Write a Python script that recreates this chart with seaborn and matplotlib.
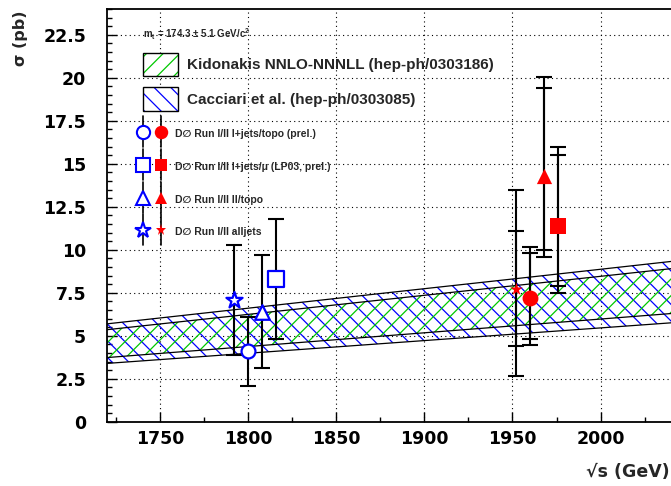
import numpy as np
import pandas as pd
import matplotlib
matplotlib.use("Agg")
import matplotlib.pyplot as plt
from matplotlib.patches import Rectangle
from matplotlib.lines import Line2D
from matplotlib.ticker import MultipleLocator
import seaborn as sns

# ---------------- data ----------------
# theory bands (sigma in pb vs sqrt(s) in GeV)
band_energy = [1720, 1800, 1880, 1960, 2040, 2100]
kidonakis_low = [3.73, 4.37, 5.01, 5.65, 6.29, 6.77]
kidonakis_high = [5.35, 6.24, 7.13, 8.01, 8.90, 9.57]
cacciari_low = [3.39, 3.98, 4.57, 5.16, 5.75, 6.20]
cacciari_high = [5.69, 6.60, 7.51, 8.41, 9.32, 10.00]

channels = ["l+jets/topo", "l+jets/mu", "ll/topo", "alljets"]

# Run I measurements (points displaced around 1800 GeV)
run1_energy = [1800, 1816, 1808, 1792]
run1_sigma = [4.1, 8.3, 6.4, 7.1]
run1_low = [2.1, 4.8, 3.1, 3.9]
run1_high = [6.1, 11.8, 9.7, 10.3]

# Run II measurements (points displaced around 1960 GeV)
run2_energy = [1960, 1976, 1968, 1952]
run2_sigma = [7.2, 11.4, 14.3, 7.7]
run2_stat_low = [4.8, 7.9, 10.0, 4.4]
run2_stat_high = [9.8, 15.5, 19.4, 11.1]
run2_tot_low = [4.45, 7.46, 9.6, 2.67]
run2_tot_high = [10.15, 15.96, 20.02, 13.5]

legend_labels = [
    "D\u2205 Run I/II l+jets/topo (prel.)",
    "D\u2205 Run I/II l+jets/\u03bc (LP03, prel.)",
    "D\u2205 Run I/II ll/topo",
    "D\u2205 Run I/II alljets",
]

markers = {"l+jets/topo": "o", "l+jets/mu": "s", "ll/topo": "^", "alljets": "*"}
open_size = {"l+jets/topo": 100, "l+jets/mu": 120, "ll/topo": 110, "alljets": 150}
full_size = {"l+jets/topo": 130, "l+jets/mu": 120, "ll/topo": 120, "alljets": 90}

# ---------------- style ----------------
sns.set_theme(style="ticks")
plt.rcParams["font.family"] = ["Liberation Sans", "DejaVu Sans"]
plt.rcParams["hatch.linewidth"] = 0.9

W, H = 671, 486
fig = plt.figure(figsize=(W / 100, H / 100), dpi=100)
fig.patch.set_facecolor("white")

ax_left, ax_bottom_px, ax_top_px = 107, 421.7, 9.0
xmin, xmax = 1720, 2100
px_per_gev = 1.763
ax_w = (xmax - xmin) * px_per_gev
ax = fig.add_axes([ax_left / W, (H - ax_bottom_px) / H,
                   ax_w / W, (ax_bottom_px - ax_top_px) / H])
ax.set_facecolor("white")


def fpos(x, y):
    """figure-fraction position from top-left pixel coordinates"""
    return x / W, 1 - y / H


GREEN = "#00c800"
BLUE = "#0000ff"
RED = "#ff0000"

# ---------------- theory bands ----------------
ax.fill_between(band_energy, cacciari_low, cacciari_high, facecolor="none",
                edgecolor=BLUE, hatch="\\\\", linewidth=0, zorder=1)
ax.fill_between(band_energy, kidonakis_low, kidonakis_high, facecolor="none",
                edgecolor=GREEN, hatch="//", linewidth=0, zorder=1)
bands = pd.DataFrame({"E": band_energy * 4,
                      "sigma": cacciari_low + cacciari_high + kidonakis_low + kidonakis_high,
                      "edge": ["cl"] * 6 + ["ch"] * 6 + ["kl"] * 6 + ["kh"] * 6})
for edge, grp in bands.groupby("edge"):
    sns.lineplot(data=grp, x="E", y="sigma", color="black", linewidth=0.9,
                 ax=ax, zorder=2, legend=False)

# ---------------- error bars ----------------
ekw = dict(fmt="none", ecolor="black", elinewidth=1.5, capsize=5.5,
           capthick=1.5, zorder=3)
r1 = np.array(run1_sigma)
ax.errorbar(run1_energy, run1_sigma,
            yerr=[r1 - np.array(run1_low), np.array(run1_high) - r1], **ekw)
r2 = np.array(run2_sigma)
ax.errorbar(run2_energy, run2_sigma,
            yerr=[r2 - np.array(run2_tot_low), np.array(run2_tot_high) - r2], **ekw)
ax.errorbar(run2_energy, run2_sigma,
            yerr=[r2 - np.array(run2_stat_low), np.array(run2_stat_high) - r2], **ekw)

# ---------------- markers ----------------
run1 = pd.DataFrame({"E": run1_energy, "sigma": run1_sigma, "channel": channels})
run2 = pd.DataFrame({"E": run2_energy, "sigma": run2_sigma, "channel": channels})
for ch in channels:
    sns.scatterplot(data=run1[run1.channel == ch], x="E", y="sigma",
                    marker=markers[ch], s=open_size[ch], color="white",
                    edgecolor=BLUE, linewidth=1.6, ax=ax, zorder=4, legend=False)
    sns.scatterplot(data=run2[run2.channel == ch], x="E", y="sigma",
                    marker=markers[ch], s=full_size[ch], color=RED,
                    edgecolor=RED, linewidth=0, ax=ax, zorder=4, legend=False)

# ---------------- axes ----------------
ax.set_xlim(xmin, xmax)
ax.set_ylim(0, 24)
ax.xaxis.set_major_locator(MultipleLocator(50))
ax.xaxis.set_minor_locator(MultipleLocator(25))
ax.yaxis.set_major_locator(MultipleLocator(2.5))
ax.yaxis.set_minor_locator(MultipleLocator(0.5))
ax.xaxis.set_major_formatter(plt.FuncFormatter(lambda v, p: f"{v:g}" if v <= 2020 else ""))
ax.yaxis.set_major_formatter(plt.FuncFormatter(lambda v, p: f"{v:g}"))
ax.grid(True, which="major", color="black", linestyle=(0, (1, 3)),
        linewidth=0.8, zorder=0)
ax.set_axisbelow(True)
for s in ["left", "bottom", "top", "right"]:
    ax.spines[s].set_linewidth(1.3)
    ax.spines[s].set_color("black")
ax.tick_params(which="major", direction="in", length=7.5, width=1.0,
               color="black", labelsize=12.5)
ax.tick_params(which="minor", direction="in", length=3.8, width=1.0,
               color="black")
ax.tick_params(axis="y", which="major", pad=15)
ax.tick_params(axis="x", which="major", pad=6)
for lab in ax.get_xticklabels() + ax.get_yticklabels():
    lab.set_fontfamily("DejaVu Sans")
    lab.set_fontweight("bold")
    lab.set_color("black")
ax.set_xlabel("")
ax.set_ylabel("")

fig.text(*fpos(20, 10), "\u03c3 (pb)", rotation=90, ha="center", va="top",
         fontsize=11.5, fontweight="bold", family=["DejaVu Sans"])
fig.text(*fpos(670, 472), "\u221as (GeV)", ha="right", va="center",
         fontsize=12.5, fontweight="bold", family=["DejaVu Sans"])

# ---------------- legend ----------------
fig.text(*fpos(143, 34), "m$_\\mathregular{t}$ = 174.3 \u00b1 5.1 GeV/c$^\\mathregular{2}$",
         ha="left", va="center", fontsize=7, fontweight="bold")

for (y0, y1, col, hatch, label) in [
        (53, 76, GREEN, "//", "Kidonakis NNLO-NNNLL (hep-ph/0303186)"),
        (87.5, 111, BLUE, "\\\\", "Cacciari et al. (hep-ph/0303085)")]:
    x0, y_ = fpos(143, y1)
    w = 35 / W
    h = (y1 - y0) / H
    fig.patches.append(Rectangle((x0, y_), w, h, transform=fig.transFigure,
                                 facecolor="white", edgecolor=col, hatch=hatch,
                                 linewidth=0))
    fig.patches.append(Rectangle((x0, y_), w, h, transform=fig.transFigure,
                                 facecolor="none", edgecolor="black",
                                 linewidth=1.0))
    fig.text(*fpos(187, (y0 + y1) / 2 + 1), label, ha="left", va="center",
             fontsize=11, fontweight="bold")

rows_y = [131.7, 165, 198.3, 230]
for ch, label, yr in zip(channels, legend_labels, rows_y):
    for xm in (142.7, 160.7):
        xa, ya = fpos(xm, yr - 16)
        xb, yb = fpos(xm, yr + 15)
        fig.lines.append(Line2D([xa, xb], [ya, yb], transform=fig.transFigure,
                                color="black", linewidth=1.2))
    fig.lines.append(Line2D([fpos(142.7, yr)[0]], [fpos(142.7, yr)[1]],
                            transform=fig.transFigure, marker=markers[ch],
                            markersize=np.sqrt(open_size[ch]) * 0.95,
                            markerfacecolor="white", markeredgecolor=BLUE,
                            markeredgewidth=1.5, linestyle="none"))
    fig.lines.append(Line2D([fpos(160.7, yr)[0]], [fpos(160.7, yr)[1]],
                            transform=fig.transFigure, marker=markers[ch],
                            markersize=np.sqrt(full_size[ch]) * 0.85,
                            markerfacecolor=RED, markeredgecolor=RED,
                            markeredgewidth=0, linestyle="none"))
    fig.text(*fpos(175, yr + 2), label, ha="left", va="center",
             fontsize=7.5, fontweight="bold")

fig.savefig("out.png", dpi=100)
